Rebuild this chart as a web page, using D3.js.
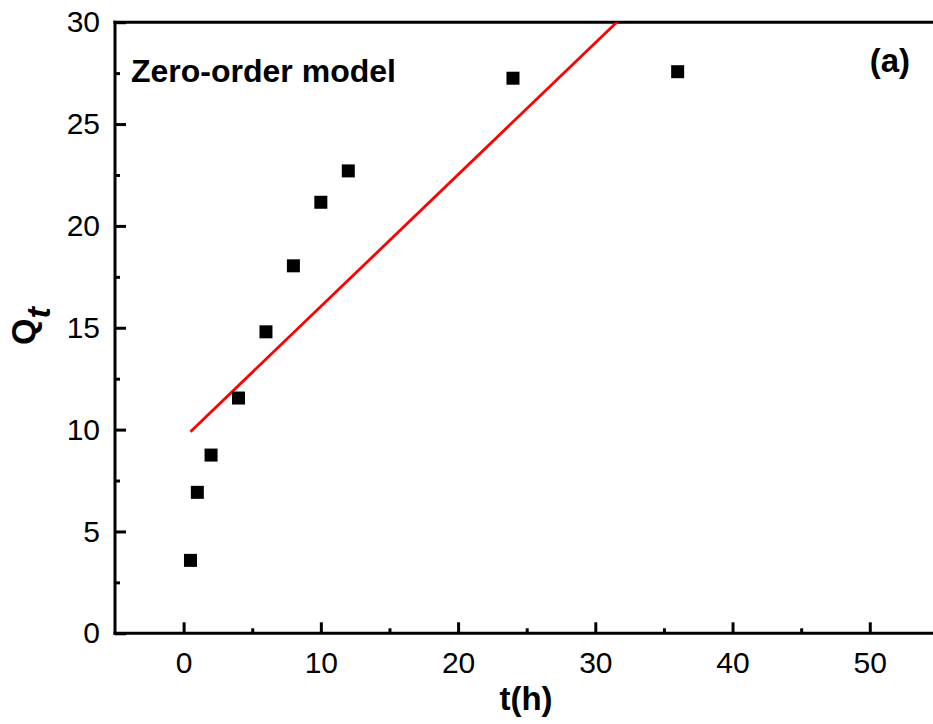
<!DOCTYPE html>
<html>
<head>
<meta charset="utf-8">
<script src="https://cdn.jsdelivr.net/npm/d3@7"></script>
<style>
  html, body { margin: 0; padding: 0; background: #fff; }
  svg { display: block; font-family: "Liberation Sans", Arial, sans-serif; }
</style>
</head>
<body>
<svg id="chart" width="933" height="724"></svg>
<script>
// Release time (h) and cumulative release Q_t
const times = [0.5, 1, 2, 4, 6, 8, 10, 12, 24, 36];
const qValues = [3.58, 6.92, 8.75, 11.55, 14.8, 18.04, 21.16, 22.7, 27.25, 27.57];

// Zero-order fit line end points (t, Q_t)
const fitTimes = [0.5, 36];
const fitQ = [9.9, 32.87];

const xTicks = [0, 10, 20, 30, 40, 50];
const xMinorTicks = [5, 15, 25, 35, 45];
const yTicks = [0, 5, 10, 15, 20, 25, 30];
const yMinorTicks = [2.5, 7.5, 12.5, 17.5, 22.5, 27.5];

const svg = d3.select("#chart");
const plotLeft = 115, plotRight = 938.4, plotTop = 22.2, plotBottom = 633.3;

const x = d3.scaleLinear().domain([-5, 55]).range([plotLeft, plotRight]);
const y = d3.scaleLinear().domain([0, 30]).range([plotBottom, plotTop]);

// Clip region for the plot area
svg.append("defs").append("clipPath").attr("id", "plot-clip")
  .append("rect").attr("x", plotLeft).attr("y", plotTop)
  .attr("width", plotRight - plotLeft).attr("height", plotBottom - plotTop);

// Minor ticks (inward)
const xMinor = svg.append("g").attr("transform", `translate(0,${plotBottom})`)
  .call(d3.axisBottom(x).tickValues(xMinorTicks).tickSize(-5).tickSizeOuter(0).tickFormat(""));
const yMinor = svg.append("g").attr("transform", `translate(${plotLeft},0)`)
  .call(d3.axisLeft(y).tickValues(yMinorTicks).tickSize(-5).tickSizeOuter(0).tickFormat(""));

// Major ticks and labels
const xAxis = svg.append("g").attr("transform", `translate(0,${plotBottom})`)
  .call(d3.axisBottom(x).tickValues(xTicks).tickSize(-11).tickSizeOuter(0).tickPadding(18));
const yAxis = svg.append("g").attr("transform", `translate(${plotLeft},0)`)
  .call(d3.axisLeft(y).tickValues(yTicks).tickSize(-11).tickSizeOuter(0).tickPadding(15));

[xMinor, yMinor, xAxis, yAxis].forEach(g => {
  g.select(".domain").remove();
  g.selectAll(".tick line").attr("stroke", "#000").attr("stroke-width", 3);
  g.selectAll(".tick text").attr("font-size", 30).attr("fill", "#000")
    .attr("font-family", "'Liberation Sans', Arial, sans-serif");
});

// Frame: left, bottom and top axis lines
const frame = svg.append("g").attr("stroke", "#000").attr("stroke-width", 3)
  .attr("stroke-linecap", "square").attr("fill", "none");
frame.append("line").attr("x1", plotLeft).attr("x2", plotLeft).attr("y1", plotTop).attr("y2", plotBottom);
frame.append("line").attr("x1", plotLeft).attr("x2", plotRight).attr("y1", plotBottom).attr("y2", plotBottom);
frame.append("line").attr("x1", plotLeft).attr("x2", plotRight).attr("y1", plotTop).attr("y2", plotTop);

// Zero-order model fit line
const fitData = fitTimes.map((t, i) => [t, fitQ[i]]);
svg.append("path")
  .datum(fitData)
  .attr("clip-path", "url(#plot-clip)")
  .attr("fill", "none")
  .attr("stroke", "#ff0000")
  .attr("stroke-width", 2.8)
  .attr("d", d3.line().x(d => x(d[0])).y(d => y(d[1])));

// Experimental points
const size = 13;
svg.append("g").selectAll("rect")
  .data(times.map((t, i) => [t, qValues[i]]))
  .join("rect")
  .attr("x", d => x(d[0]) - size / 2)
  .attr("y", d => y(d[1]) - size / 2)
  .attr("width", size)
  .attr("height", size)
  .attr("fill", "#000");

// Annotations
svg.append("text")
  .attr("x", 131).attr("y", 81.7)
  .attr("font-size", 32).attr("font-weight", "bold")
  .text("Zero-order model");

svg.append("text")
  .attr("x", 910).attr("y", 72)
  .attr("text-anchor", "end")
  .attr("font-size", 33).attr("font-weight", "bold")
  .text("(a)");

// Axis titles
svg.append("text")
  .attr("x", 526).attr("y", 710)
  .attr("text-anchor", "middle")
  .attr("font-size", 33).attr("font-weight", "bold")
  .text("t(h)");

const yTitle = svg.append("text")
  .attr("transform", "translate(35,326) rotate(-90)")
  .attr("text-anchor", "middle")
  .attr("font-size", 34).attr("font-weight", "bold");
yTitle.append("tspan").text("Q");
yTitle.append("tspan").attr("font-style", "italic").attr("dy", 15).text("t");
</script>
</body>
</html>
